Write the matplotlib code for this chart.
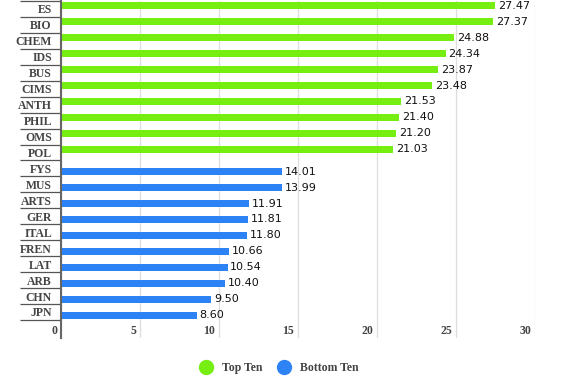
import numpy as np
import matplotlib
matplotlib.use('Agg')
import matplotlib.pyplot as plt
from matplotlib.lines import Line2D
from matplotlib.transforms import offset_copy

top_labels = ['ES', 'BIO', 'CHEM', 'IDS', 'BUS', 'CIMS', 'ANTH', 'PHIL', 'OMS', 'POL']
top_vals = [27.47, 27.37, 24.88, 24.34, 23.87, 23.48, 21.53, 21.40, 21.20, 21.03]
bottom_labels = ['FYS', 'MUS', 'ARTS', 'GER', 'ITAL', 'FREN', 'LAT', 'ARB', 'CHN', 'JPN']
bottom_vals = [14.01, 13.99, 11.91, 11.81, 11.80, 10.66, 10.54, 10.40, 9.50, 8.60]
x_ticks = [0, 5, 10, 15, 20, 25, 30]

green = '#76ee12'
blue = '#2d82f5'
label_color = '#444444'

fig = plt.figure(figsize=(5.88, 3.88), dpi=100)
ax = fig.add_axes([61 / 588, 1 - 338 / 388, (535 - 61) / 588, (338 - 1) / 388])

n = len(top_labels) + len(bottom_labels)
pos_top = np.arange(len(top_labels))
pos_bot = np.arange(len(bottom_labels)) + len(top_labels)

b1 = ax.barh(pos_top - 0.2, top_vals, height=0.42, color=green, label='Top Ten')
b2 = ax.barh(pos_bot + 0.2, bottom_vals, height=0.42, color=blue, label='Bottom Ten')
ax.bar_label(b1, fmt='%.2f', padding=2, fontsize=8, color='#111111')
ax.bar_label(b2, fmt='%.2f', padding=2, fontsize=8, color='#111111')

ax.set_xlim(0, 30)
ax.set_ylim(n - 0.5 + 18 / 15.9, -0.5)

# category labels + separator lines
ax.set_yticks(np.arange(n))
ax.set_yticklabels(top_labels + bottom_labels, family='Liberation Serif',
                   fontweight='bold', fontsize=8.5, color=label_color)
ax.set_yticks(np.arange(n + 1) - 0.5, minor=True)
ax.tick_params(axis='y', which='major', length=0, pad=6.5)
ax.tick_params(axis='y', which='minor', length=29.5, width=0.9, color='#555555')

# x grid and labels
ax.set_xticks(x_ticks)
ax.set_xticklabels([])
ax.tick_params(axis='x', length=0)
ax.grid(axis='x', color='#dddddd', linewidth=0.9)
ax.set_axisbelow(True)
trans = offset_copy(ax.get_xaxis_transform(), fig=fig, x=-4, y=0, units='dots')
for t in x_ticks:
    ax.text(t, 7 / 337, str(t), transform=trans, ha='right', va='center',
            family='Liberation Serif', fontweight='bold', fontsize=8.5,
            color=label_color, clip_on=False)

for s in ['top', 'right', 'bottom']:
    ax.spines[s].set_visible(False)
ax.spines['left'].set_color('#666666')
ax.spines['left'].set_linewidth(1.5)

handles = [Line2D([], [], marker='o', linestyle='none', markersize=10, color=green),
           Line2D([], [], marker='o', linestyle='none', markersize=10, color=blue)]
fig.legend(handles, ['Top Ten', 'Bottom Ten'], loc='center', bbox_to_anchor=(0.47, 0.052),
           ncol=2, frameon=False, handletextpad=0.4, columnspacing=0.8,
           prop={'family': 'Liberation Serif', 'weight': 'bold', 'size': 8.5},
           labelcolor=label_color)

fig.savefig('out.png', dpi=100)
